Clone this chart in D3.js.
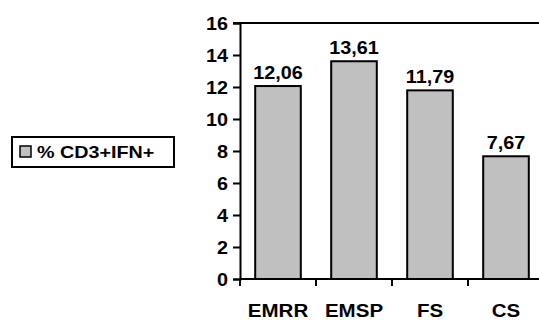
<!DOCTYPE html>
<html>
<head>
<meta charset="utf-8">
<script src="https://cdn.jsdelivr.net/npm/d3@7"></script>
<style>
  body { margin: 0; background: #fff; }
  text { font-family: "Liberation Sans", Arial, sans-serif; font-weight: bold; fill: #000; }
</style>
</head>
<body>
<div id="graph"></div>
<script>
// donnees du graphique
let categories = ['EMRR', 'EMSP', 'FS', 'CS'];
let valeurs = [12.06, 13.61, 11.79, 7.67];
let etiquettes = ['12,06', '13,61', '11,79', '7,67'];
let yTicks = [0, 2, 4, 6, 8, 10, 12, 14, 16];
let serieNom = '% CD3+IFN+';

let width = 539, height = 320;
let color = '#C0C0C0';
let stretch = 1.1; // texte un peu elargi comme dans l'original

let svg = d3.select('#graph').append('svg')
    .attr('width', width)
    .attr('height', height);

let x = d3.scaleBand()
    .domain(categories)
    .range([240, 544])
    .paddingInner(0.4)
    .paddingOuter(0.2);

let y = d3.scaleLinear()
    .domain([0, 16])
    .range([279, 23]);

// elargir un texte autour de son point d'ancrage
function elargir(sel, k) {
    k = k || stretch;
    sel.each(function() {
        let t = d3.select(this);
        let tx = +t.attr('x') || 0;
        let ty = +t.attr('y') || 0;
        t.attr('x', 0).attr('y', 0)
         .attr('transform', 'translate(' + tx + ',' + ty + ') scale(' + k + ',1)');
    });
}

// bord du haut de la zone de tracé
svg.append('line')
    .attr('x1', 233).attr('x2', width)
    .attr('y1', y(16)).attr('y2', y(16))
    .attr('stroke', '#000')
    .attr('stroke-width', 2);

// barres
svg.selectAll('rect.bar')
    .data(valeurs)
    .enter().append('rect')
    .attr('class', 'bar')
    .attr('x', (d, i) => x(categories[i]))
    .attr('y', d => y(d))
    .attr('width', x.bandwidth())
    .attr('height', d => y(0) - y(d))
    .attr('fill', color)
    .attr('stroke', '#000')
    .attr('stroke-width', 2);

// valeurs au-dessus des barres
svg.selectAll('text.val')
    .data(valeurs)
    .enter().append('text')
    .attr('class', 'val')
    .attr('x', (d, i) => x(categories[i]) + x.bandwidth() / 2)
    .attr('y', d => y(d) - 7)
    .attr('text-anchor', 'middle')
    .style('font-size', '18px')
    .text((d, i) => etiquettes[i])
    .call(elargir);

// axe Y
let yAxis = svg.append('g')
    .attr('transform', 'translate(240,0)')
    .call(d3.axisLeft(y).tickValues(yTicks).tickSize(7).tickPadding(5).tickFormat(d3.format('d')));
yAxis.select('.domain').attr('stroke', '#000').attr('stroke-width', 2);
yAxis.selectAll('.tick line').attr('stroke', '#000').attr('stroke-width', 2);
yAxis.selectAll('.tick text')
    .attr('font-family', null)
    .style('font-size', '18px')
    .attr('dy', '0.36em')
    .call(elargir);

// axe X
let xAxis = svg.append('g')
    .attr('transform', 'translate(0,' + y(0) + ')')
    .call(d3.axisBottom(x).tickSize(0).tickPadding(0));
xAxis.select('.domain').attr('stroke', '#000').attr('stroke-width', 2)
    .attr('d', 'M240,0H' + width);
xAxis.selectAll('.tick text')
    .attr('font-family', null)
    .style('font-size', '18px')
    .attr('y', 38)
    .attr('dy', 0)
    .call(elargir, 1.14);

// graduations entre les categories
let bornes = [240].concat(categories.map(c => x(c) + x.bandwidth() + x.step() * x.paddingInner() / 2));
xAxis.selectAll('line.sep')
    .data(bornes)
    .enter().append('line')
    .attr('class', 'sep')
    .attr('x1', d => d).attr('x2', d => d)
    .attr('y1', 0).attr('y2', 7)
    .attr('stroke', '#000')
    .attr('stroke-width', 2);

// legende
let legende = svg.append('g');
legende.append('rect')
    .attr('x', 12).attr('y', 137)
    .attr('width', 162).attr('height', 30)
    .attr('fill', '#fff')
    .attr('stroke', '#000')
    .attr('stroke-width', 2);
legende.append('rect')
    .attr('x', 20).attr('y', 146)
    .attr('width', 11).attr('height', 11)
    .attr('fill', color)
    .attr('stroke', '#000')
    .attr('stroke-width', 1.5);
legende.append('text')
    .attr('x', 37).attr('y', 158)
    .style('font-size', '17px')
    .text(serieNom)
    .call(elargir, 1.16);
</script>
</body>
</html>
